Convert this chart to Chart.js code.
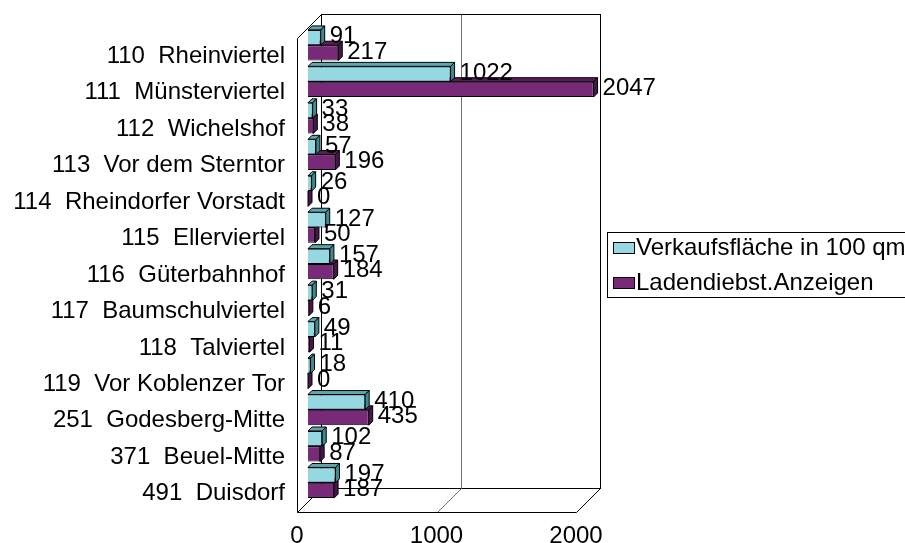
<!DOCTYPE html>
<html>
<head>
<meta charset="utf-8">
<script src="https://cdn.jsdelivr.net/npm/chart.js@4"></script>
<style>
  html, body { margin: 0; padding: 0; background: #fff; }
  #wrap { width: 905px; height: 543px; position: relative; }
</style>
</head>
<body>
<div id="wrap"><canvas id="chart"></canvas></div>
<script>
// Datos
const bezirke = ['110  Rheinviertel', '111  Münsterviertel', '112  Wichelshof', '113  Vor dem Sterntor',
  '114  Rheindorfer Vorstadt', '115  Ellerviertel', '116  Güterbahnhof', '117  Baumschulviertel',
  '118  Talviertel', '119  Vor Koblenzer Tor', '251  Godesberg-Mitte', '371  Beuel-Mitte', '491  Duisdorf'];
const verkaufsflaeche = [91, 1022, 33, 57, 26, 127, 157, 31, 49, 18, 410, 102, 197];
const anzeigen = [217, 2047, 38, 196, 0, 50, 184, 6, 11, 0, 435, 87, 187];
const xTicks = [0, 1000, 2000];

const FONT = "'Liberation Sans', Arial, sans-serif";
const FSIZE = 24;
const DEPTH = 24;      // profundidad del marco 3D
const SHIFT_X = 11;    // barras en el plano medio
const SHIFT_Y = -11;
const BAR_D = 4;       // profundidad de cada barra

const colores = {
  cyan: { front: '#96d8e2', top: '#5aa7ae', side: '#3f8a90' },
  purple: { front: '#782a78', top: '#5a1d5a', side: '#4a164a' }
};

// ------------------------ MARCO 3D ------------------------
function drawFrame(chart) {
  const ctx = chart.ctx;
  const a = chart.chartArea;
  const x = chart.scales.x;
  const L = 297.5, R = Math.round(a.right) + 0.5, T = Math.round(a.top) + 0.5, B = Math.round(a.bottom) + 0.5;
  ctx.save();
  ctx.lineWidth = 1;
  ctx.strokeStyle = '#000';
  // pared del fondo
  ctx.fillStyle = '#fff';
  ctx.fillRect(L + DEPTH, T - DEPTH, R - L, B - T);
  ctx.strokeRect(L + DEPTH, T - DEPTH, R - L, B - T);
  // líneas de cuadrícula
  ctx.strokeStyle = '#707070';
  xTicks.slice(1, -1).forEach(v => {
    const px = Math.round(x.getPixelForValue(v)) + 0.5;
    ctx.beginPath();
    ctx.moveTo(px, B);
    ctx.lineTo(px + DEPTH, B - DEPTH);
    ctx.lineTo(px + DEPTH, T - DEPTH);
    ctx.stroke();
  });
  ctx.strokeStyle = '#000';
  // pared izquierda y suelo
  ctx.beginPath();
  ctx.moveTo(L + DEPTH, T - DEPTH);
  ctx.lineTo(L, T);
  ctx.lineTo(L, B);
  ctx.lineTo(R, B);
  ctx.lineTo(R + DEPTH, B - DEPTH);
  ctx.moveTo(L, B);
  ctx.lineTo(L + DEPTH, B - DEPTH);
  ctx.stroke();
  ctx.restore();
}

function drawBarFaces(chart) {
  const ctx = chart.ctx;
  ctx.save();
  ctx.translate(SHIFT_X, SHIFT_Y);
  ctx.lineWidth = 1;
  ctx.strokeStyle = '#000';
  // morado primero, el cian lo tapa
  [1, 0].forEach(i => {
    const meta = chart.getDatasetMeta(i);
    const c = chart.data.datasets[i].faces;
    meta.data.forEach(bar => {
      const p = bar.getProps(['x', 'y', 'base', 'height'], true);
      const x0 = p.base, x1 = p.x, y0 = p.y - p.height / 2, y1 = p.y + p.height / 2;
      // cara superior
      ctx.fillStyle = c.top;
      ctx.beginPath();
      ctx.moveTo(x0, y0);
      ctx.lineTo(x0 + BAR_D, y0 - BAR_D);
      ctx.lineTo(x1 + BAR_D, y0 - BAR_D);
      ctx.lineTo(x1, y0);
      ctx.closePath();
      ctx.fill();
      ctx.stroke();
      // cara lateral
      ctx.fillStyle = c.side;
      ctx.beginPath();
      ctx.moveTo(x1, y0);
      ctx.lineTo(x1 + BAR_D, y0 - BAR_D);
      ctx.lineTo(x1 + BAR_D, y1 - BAR_D);
      ctx.lineTo(x1, y1);
      ctx.closePath();
      ctx.fill();
      ctx.stroke();
    });
  });
  ctx.restore();
}

function drawValueLabels(chart) {
  const ctx = chart.ctx;
  ctx.save();
  ctx.fillStyle = '#000';
  ctx.font = FSIZE + 'px ' + FONT;
  ctx.textAlign = 'left';
  ctx.textBaseline = 'middle';
  chart.data.datasets.forEach((ds, i) => {
    chart.getDatasetMeta(i).data.forEach((bar, j) => {
      const p = bar.getProps(['x', 'y'], true);
      ctx.fillText(String(ds.data[j]), p.x + SHIFT_X + BAR_D + 5, p.y + SHIFT_Y - 1);
    });
  });
  ctx.restore();
}

function drawLegend(chart) {
  const ctx = chart.ctx;
  ctx.save();
  ctx.strokeStyle = '#000';
  ctx.lineWidth = 1;
  ctx.strokeRect(607.5, 232.5, 320, 65);
  ctx.font = FSIZE + 'px ' + FONT;
  ctx.textBaseline = 'middle';
  ctx.textAlign = 'left';
  chart.data.datasets.forEach((ds, i) => {
    const cy = 248 + i * 35;
    ctx.fillStyle = ds.backgroundColor;
    ctx.fillRect(613.5, cy - 5.5, 21, 11);
    ctx.strokeRect(613.5, cy - 5.5, 21, 11);
    ctx.fillStyle = '#000';
    ctx.fillText(ds.label, 636, cy);
  });
  ctx.restore();
}

const plugin3d = {
  id: 'excel3d',
  beforeDatasetsDraw(chart) {
    drawFrame(chart);
    drawBarFaces(chart);
    chart.ctx.save();
    chart.ctx.translate(SHIFT_X, SHIFT_Y);
  },
  afterDatasetsDraw(chart) {
    chart.ctx.restore();
    drawValueLabels(chart);
    drawLegend(chart);
  }
};

const ctx = document.getElementById('chart').getContext('2d');
new Chart(ctx, {
  type: 'bar',
  data: {
    labels: bezirke,
    datasets: [
      {
        label: 'Verkaufsfläche in 100 qm',
        data: verkaufsflaeche,
        backgroundColor: colores.cyan.front,
        faces: colores.cyan,
        borderColor: '#000',
        borderWidth: 1,
        clip: false
      },
      {
        label: 'Ladendiebst.Anzeigen',
        data: anzeigen,
        backgroundColor: colores.purple.front,
        faces: colores.purple,
        borderColor: '#000',
        borderWidth: 1,
        clip: false
      }
    ]
  },
  options: {
    indexAxis: 'y',
    responsive: true,
    maintainAspectRatio: false,
    animation: false,
    layout: { padding: { top: 38, right: 329, left: 0, bottom: 0 } },
    datasets: { bar: { categoryPercentage: 0.84, barPercentage: 1.0 } },
    plugins: {
      legend: { display: false },
      tooltip: { enabled: false }
    },
    scales: {
      x: {
        min: 0,
        max: 2000,
        afterBuildTicks: (scale) => { scale.ticks = xTicks.map(v => ({ value: v })); },
        afterFit: (scale) => { scale.height = 31; },
        grid: { display: false, drawTicks: false },
        border: { display: false },
        ticks: {
          color: '#000', font: { family: FONT, size: FSIZE }, padding: 10, maxRotation: 0,
          callback: (v) => String(v)
        }
      },
      y: {
        afterFit: (scale) => { scale.width = 297; },
        grid: { display: false, drawTicks: false },
        border: { display: false },
        ticks: { color: '#000', font: { family: FONT, size: FSIZE }, padding: 12, autoSkip: false }
      }
    }
  },
  plugins: [plugin3d]
});
</script>
</body>
</html>
